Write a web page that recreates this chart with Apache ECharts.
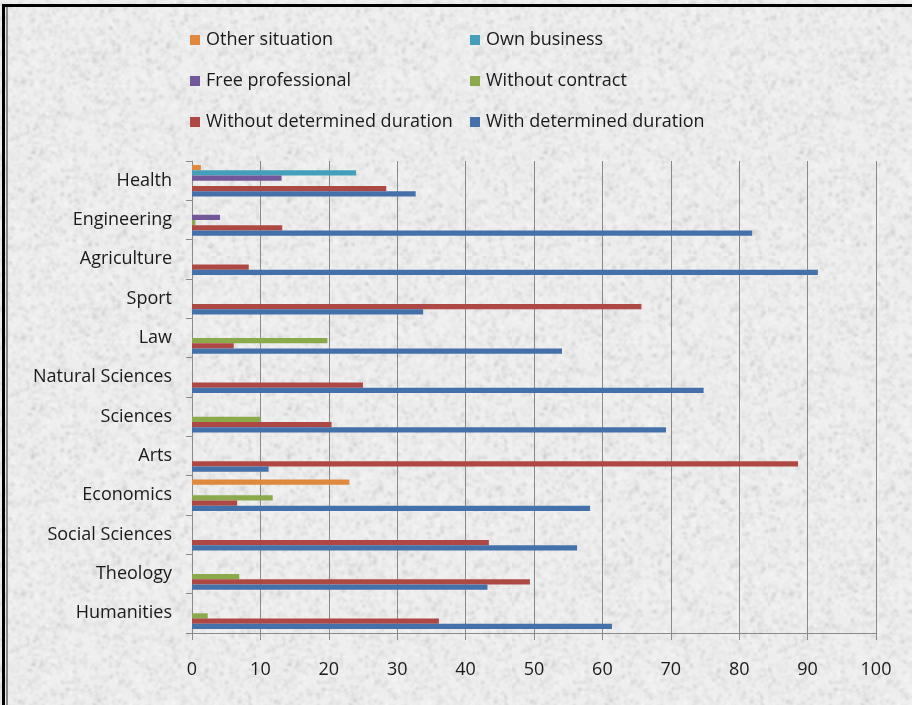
<!DOCTYPE html>
<html>
<head>
<meta charset="utf-8">
<script src="https://cdn.jsdelivr.net/npm/echarts@6/dist/echarts.min.js"></script>
<style>
  html, body { margin: 0; padding: 0; background: #ffffff; }
  #chart { width: 912px; height: 705px; }
</style>
</head>
<body>
<div id="chart"></div>
<script>
// Fields of study, listed bottom to top along the category axis
const categories = ['Humanities', 'Theology', 'Social Sciences', 'Economics', 'Arts', 'Sciences',
  'Natural Sciences', 'Law', 'Sport', 'Agriculture', 'Engineering', 'Health'];

// Share of graduates (%) by employment situation
const withDetermined    = [61.4, 43.2, 56.3, 58.2, 11.2, 69.3, 74.8, 54.1, 33.8, 91.5, 81.9, 32.7];
const withoutDetermined = [36.1, 49.4, 43.4, 6.6, 88.6, 20.4, 25.0, 6.1, 65.7, 8.3, 13.2, 28.4];
const withoutContract   = [2.3, 6.9, 0, 11.8, 0, 10.0, 0, 19.8, 0, 0, 0.5, 0];
const freeProfessional  = [0, 0, 0, 0, 0, 0, 0, 0, 0, 0, 4.1, 13.1];
const ownBusiness       = [0, 0, 0, 0, 0, 0, 0, 0, 0, 0, 0, 24.0];
const otherSituation    = [0, 0, 0, 23.0, 0, 0, 0, 0, 0, 0, 0, 1.3];

const xTicks = [0, 10, 20, 30, 40, 50, 60, 70, 80, 90, 100];

// Within each category the first series sits at the top, so list top to bottom
const seriesDefs = [
  { name: 'Other situation', data: otherSituation, color: '#E0883D' },
  { name: 'Own business', data: ownBusiness, color: '#44A0BA' },
  { name: 'Free professional', data: freeProfessional, color: '#72579A' },
  { name: 'Without contract', data: withoutContract, color: '#8AAA4C' },
  { name: 'Without determined duration', data: withoutDetermined, color: '#AD4845' },
  { name: 'With determined duration', data: withDetermined, color: '#4571AA' }
];

// Grainy paper texture behind the chart
(function () {
  const c = document.createElement('canvas');
  c.width = 256; c.height = 256;
  const ctx = c.getContext('2d');
  ctx.fillStyle = '#efefef';
  ctx.fillRect(0, 0, 256, 256);
  let s = 12345;
  const rnd = () => { s = (s * 1103515245 + 12345) & 0x7fffffff; return s / 0x7fffffff; };
  ctx.filter = 'blur(0.8px)';
  for (let i = 0; i < 5600; i++) {
    const x = rnd() * 256, y = rnd() * 256;
    const g = Math.round(165 + rnd() * 70);
    ctx.fillStyle = 'rgba(' + g + ',' + g + ',' + g + ',' + (0.25 + rnd() * 0.3).toFixed(2) + ')';
    ctx.beginPath();
    ctx.ellipse(x, y, 0.6 + rnd() * 1.6, 0.5 + rnd() * 1.0, rnd() * Math.PI, 0, Math.PI * 2);
    ctx.fill();
  }
  for (let i = 0; i < 2500; i++) {
    const x = rnd() * 256, y = rnd() * 256;
    ctx.fillStyle = 'rgba(255,255,255,0.45)';
    ctx.beginPath();
    ctx.ellipse(x, y, 0.8 + rnd() * 1.5, 0.6 + rnd(), rnd() * Math.PI, 0, Math.PI * 2);
    ctx.fill();
  }
  const el = document.getElementById('chart');
  el.style.backgroundImage = 'url(' + c.toDataURL() + ')';
})();

const FONT = 'Open Sans';
const chart = echarts.init(document.getElementById('chart'), null, { renderer: 'canvas' });

const legendCommon = {
  orient: 'vertical',
  top: 26,
  itemWidth: 10,
  itemHeight: 10,
  itemGap: 23,
  icon: 'rect',
  textStyle: { fontFamily: FONT, fontSize: 18, color: '#1a1a1a', padding: [0, 0, 0, 1] },
  selectedMode: false
};

chart.setOption({
  backgroundColor: 'transparent',
  animation: false,
  legend: [
    Object.assign({}, legendCommon, { left: 185, data: ['Other situation', 'Free professional', 'Without determined duration'] }),
    Object.assign({}, legendCommon, { left: 465, data: ['Own business', 'Without contract', 'With determined duration'] })
  ],
  grid: { left: 192, right: 36, top: 161, bottom: 72, containLabel: false },
  xAxis: {
    type: 'value',
    min: xTicks[0],
    max: xTicks[xTicks.length - 1],
    interval: 10,
    axisLine: { show: true, lineStyle: { color: '#8a8a8a', width: 1 } },
    axisTick: { show: true, length: 7, lineStyle: { color: '#8a8a8a' } },
    splitLine: { show: true, lineStyle: { color: '#8a8a8a', width: 1 } },
    axisLabel: { fontFamily: FONT, fontSize: 18, color: '#1a1a1a', margin: 28 }
  },
  yAxis: {
    type: 'category',
    data: categories,
    axisLine: { show: true, lineStyle: { color: '#8a8a8a', width: 1 } },
    axisTick: { show: true, length: 6, lineStyle: { color: '#8a8a8a' } },
    splitLine: { show: false },
    axisLabel: { fontFamily: FONT, fontSize: 18, color: '#1a1a1a', margin: 20 }
  },
  series: seriesDefs.map(d => ({
    name: d.name,
    type: 'bar',
    data: d.data,
    barGap: '0%',
    barCategoryGap: '20%',
    itemStyle: { color: d.color },
    emphasis: { disabled: true }
  })),
  graphic: [
    { type: 'rect', shape: { x: 2, y: 4, width: 910, height: 3 }, style: { fill: '#000' }, z: 100 },
    { type: 'rect', shape: { x: 2, y: 4, width: 3, height: 701 }, style: { fill: '#000' }, z: 100 },
    { type: 'rect', shape: { x: 6, y: 7, width: 2, height: 698 }, style: { fill: '#8c8c8c' }, z: 100 }
  ]
});
</script>
</body>
</html>
